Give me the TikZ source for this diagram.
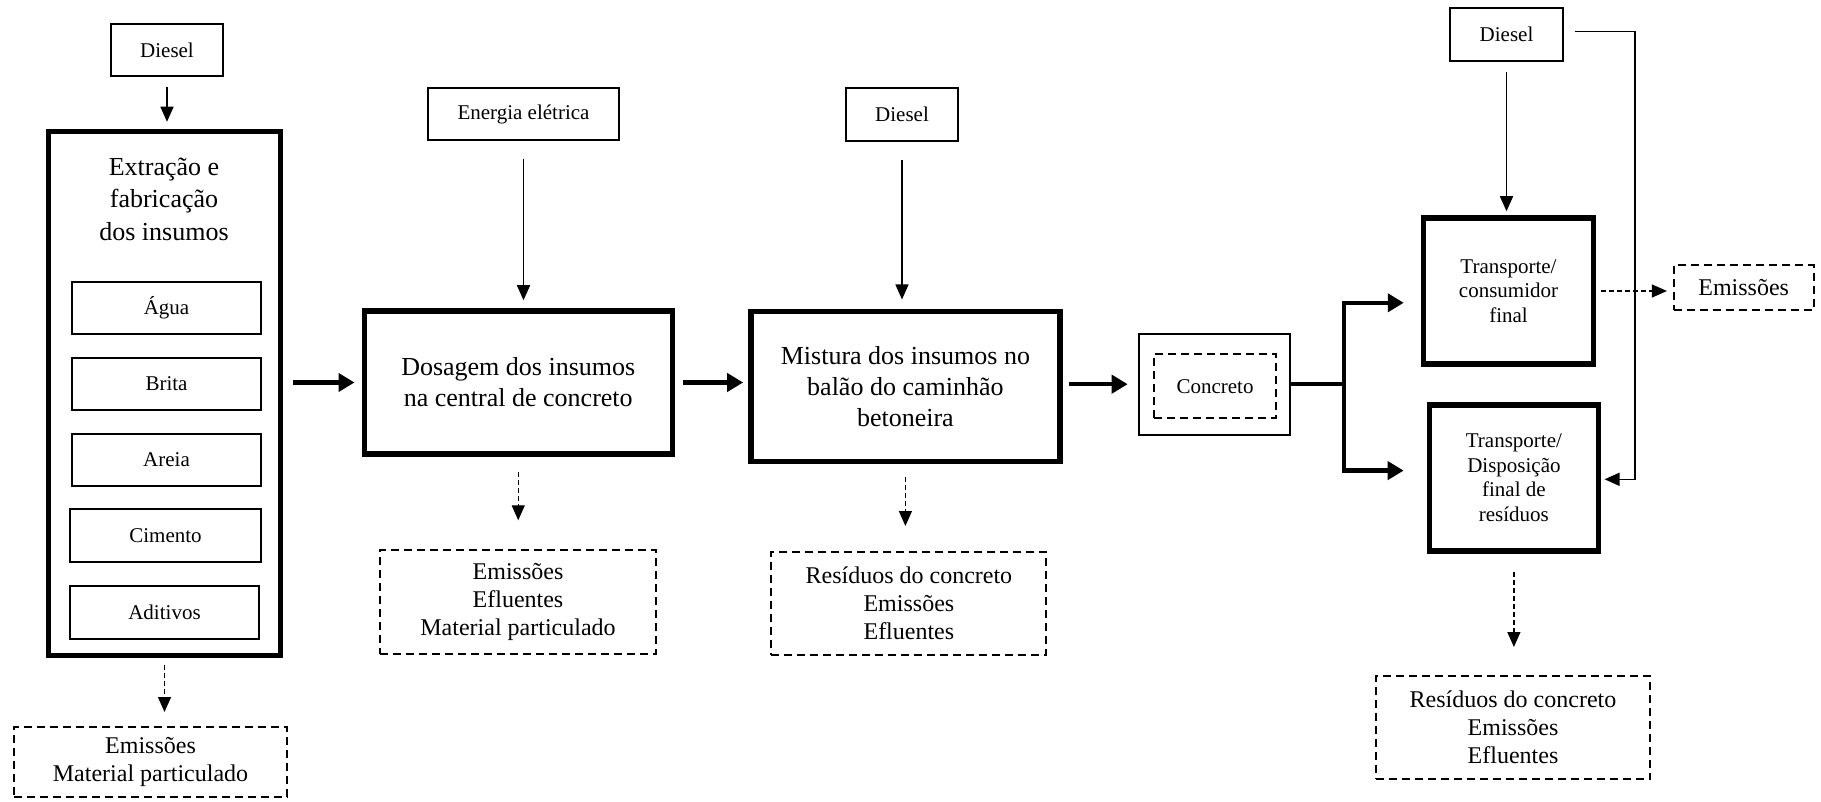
\documentclass[tikz,border=0pt]{standalone}
\usepackage{fontspec}
\setmainfont{Liberation Serif}
\usetikzlibrary{arrows.meta}
\begin{document}
\begin{tikzpicture}[x=1pt,y=-1pt,
  every node/.style={inner sep=0pt, align=center},
  thinbox/.style={draw, line width=2pt, font=\fontsize{21}{24.5}\selectfont},
  thickbox/.style={draw, line width=5.5pt, font=\fontsize{26}{31}\selectfont},
  tbox/.style={draw, line width=5.5pt, font=\fontsize{21}{24.5}\selectfont},
  dbox/.style={draw, line width=2pt, dash pattern=on 8pt off 5pt, font=\fontsize{24}{28}\selectfont},
  thinarr/.style={line width=1.5pt, -{Triangle[length=15pt,width=13pt]}},
  thickarr/.style={line width=4.5pt, -{Triangle[length=16pt,width=18pt]}},
  darr/.style={line width=1.3pt, dash pattern=on 5pt off 3pt, -{Triangle[length=15pt,width=13pt]}},
  thickln/.style={line width=4.5pt}
]
\fill[white] (0,0) rectangle (1821,802);
\useasboundingbox (0,0) rectangle (1821,802);

% ---- column 1
\node[thinbox, minimum width=112pt, minimum height=52pt] (diesel1) at (167,50) {Diesel};
\node[thickbox, minimum width=232pt, minimum height=524pt] (ext) at (164.5,393.5) {};
\node[font=\fontsize{26}{32.5}\selectfont] (title) at (164,199) {Extração e\\fabricação\\dos insumos};
\node[thinbox, minimum width=189pt, minimum height=52pt] (agua) at (166.5,308) {Água};
\node[thinbox, minimum width=189pt, minimum height=52pt] (brita) at (166.5,384) {Brita};
\node[thinbox, minimum width=189pt, minimum height=52pt] (areia) at (166.5,460) {Areia};
\node[thinbox, minimum width=191pt, minimum height=53pt] (cimento) at (165.5,535.5) {Cimento};
\node[thinbox, minimum width=189pt, minimum height=53pt] (aditivos) at (164.5,612.5) {Aditivos};
\node[dbox, minimum width=273pt, minimum height=70pt] (emis1) at (150.5,762) {Emissões\\Material particulado};

% ---- column 2
\node[thinbox, minimum width=191pt, minimum height=52pt] (energia) at (523.5,114) {Energia elétrica};
\node[thickbox, minimum width=308pt, minimum height=143pt] (dos) at (518.25,382.5) {Dosagem dos insumos\\na central de concreto};
\node[dbox, minimum width=276pt, minimum height=104pt] (emis2) at (518,602.3) {Emissões\\Efluentes\\Material particulado};

% ---- column 3
\node[thinbox, minimum width=112pt, minimum height=53pt] (diesel2) at (902,114.5) {Diesel};
\node[thickbox, minimum width=309pt, minimum height=150pt] (mix) at (905.4,386.7) {Mistura dos insumos no\\balão do caminhão\\betoneira};
\node[dbox, minimum width=275pt, minimum height=103pt] (emis3) at (908.9,603.5) {Resíduos do concreto\\Emissões\\Efluentes};

% ---- concreto
\node[thinbox, minimum width=151pt, minimum height=101pt] (conc) at (1214.2,384.2) {};
\node[dbox, minimum width=122pt, minimum height=64pt, font=\fontsize{21}{24.5}\selectfont] (concin) at (1215,386.2) {Concreto};

% ---- right column
\node[thinbox, minimum width=113pt, minimum height=53pt] (diesel3) at (1506.5,34.5) {Diesel};
\node[tbox, minimum width=170pt, minimum height=146pt] (t1) at (1508.5,291) {Transporte/\\consumidor\\final};
\node[tbox, minimum width=169pt, minimum height=146pt] (t2) at (1513.9,477.8) {Transporte/\\Disposição\\final de\\resíduos};
\node[dbox, minimum width=140pt, minimum height=44.5pt] (emis4) at (1743.7,287.7) {Emissões};
\node[dbox, minimum width=274.7pt, minimum height=103pt] (emis5) at (1513,727.5) {Resíduos do concreto\\Emissões\\Efluentes};

\coordinate (br) at (1344,384.2);
\coordinate (b1) at (1344,302.8);
\coordinate (b2) at (1344,470.6);
\coordinate (r1) at (1635.2,31.7);
\coordinate (r2) at (1635.2,479.3);

% ---- connectors
\draw[thinarr, shorten <=10pt, shorten >=7pt] (diesel1.south) -- (diesel1.south |- ext.north);
\draw[darr, shorten <=7pt, shorten >=14pt] (ext.south) -- (ext.south |- emis1.north);
\draw[thickarr, shorten <=10pt, shorten >=7pt] (ext.east |- dos.west) -- (dos.west);

\draw[thinarr, shorten <=18pt, shorten >=8pt] (energia.south) -- (energia.south |- dos.north);
\draw[darr, shorten <=15pt, shorten >=29pt] (dos.south) -- (dos.south |- emis2.north);
\draw[thickarr, shorten <=7.5pt, shorten >=5pt] (dos.east) -- (dos.east -| mix.west);

\draw[thinarr, shorten <=18pt, shorten >=9.5pt] (diesel2.south) -- (diesel2.south |- mix.north);
\draw[darr, shorten <=13pt, shorten >=25pt] (mix.south) -- (mix.south |- emis3.north);
\draw[thickarr, shorten <=6pt, shorten >=10pt] (mix.east |- conc.west) -- (conc.west);

\draw[thickln] (conc.east) -- (br);
\draw[thickarr, shorten >=17pt] (br) |- (b1 -| t1.west);
\draw[thickarr, shorten >=23pt] (br) |- (b2 -| t2.west);

\draw[thinarr, shorten <=9.6pt, shorten >=4pt] (diesel3.south) -- (diesel3.south |- t1.north);
\draw[thinarr, shorten <=10.6pt, shorten >=3.4pt] (diesel3.east |- r1) -- (r1) -- (r2) -- (r2 -| t2.east);
\draw[darr, shorten <=4.6pt, shorten >=5.8pt] (t1.east) -- (t1.east -| emis4.west);
\draw[darr, shorten <=18pt, shorten >=28pt] (t2.south) -- (t2.south |- emis5.north);
\end{tikzpicture}
\end{document}
